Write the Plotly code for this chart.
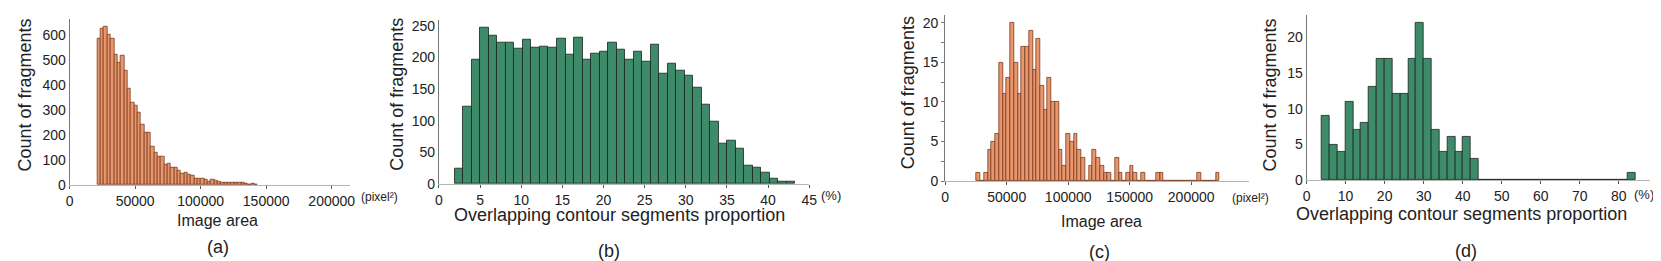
import plotly.graph_objects as go

W, H = 1661, 261

# ---------------- data ----------------
# (a) image area histogram (all fragments)
a_start = 21200
a_width = 2550
a_counts = [588, 625, 636, 604, 588, 524, 489, 517, 459, 388, 330, 317, 292, 244, 208, 208,
            152, 130, 115, 115, 81, 85, 70, 70, 59, 46, 50, 40, 36, 25, 25, 25,
            21, 14, 22, 18, 12, 10, 8, 8, 8, 10, 8, 8, 5, 3, 6, 3]

# (b) overlapping contour segments proportion (%)
b_start = 1.93
b_width = 1.034
b_counts = [24, 122, 196, 247, 235, 223, 223, 214, 229, 216, 217, 215, 230, 205, 232, 197,
            207, 210, 223, 213, 196, 210, 193, 221, 174, 191, 180, 171, 152, 125, 98, 64,
            69, 56, 29, 26, 18, 8, 4, 4]

# (c) image area histogram (subset)
c_start = 25570
c_width = 3040
c_counts = [1, 0, 1, 4, 5, 6, 15, 11, 13, 20, 15, 11, 17, 17, 19, 14, 18, 12, 9, 13,
            10, 10, 4, 2, 6, 5, 6, 4, 3, 0, 2, 4, 3, 2, 1, 1, 0, 3, 1, 0,
            1, 2, 1, 0, 1, 0, 0, 0, 1, 1, 0, 0, 0, 0, 0, 0, 0, 0, 0, 1,
            0, 0, 0, 0, 1]

# (d) overlapping contour segments proportion (%) (subset)
d_start = 3.9
d_width = 2.01
d_counts = [9, 5, 4, 11, 7, 8, 13, 17, 17, 12, 12, 17, 22, 17, 7, 4, 6, 4, 6, 3,
            0, 0, 0, 0, 0, 0, 0, 0, 0, 0, 0, 0, 0, 0, 0, 0, 0, 0, 0, 1]

a_ticks = [0, 50000, 100000, 150000, 200000]
b_ticks = [0, 5, 10, 15, 20, 25, 30, 35, 40, 45]
c_ticks = [0, 50000, 100000, 150000, 200000]
d_ticks = [0, 10, 20, 30, 40, 50, 60, 70, 80]

# ---------------- styling ----------------
ORANGE = "rgb(233,150,108)"
ORANGE_LINE = "rgb(120,58,30)"
GREEN = "rgb(62,139,106)"
GREEN_LINE = "rgb(25,35,30)"
FONT = "Liberation Sans, Arial, sans-serif"
TXT = "#222222"


def fx(p):
    return p / W


def fy(p):
    return 1 - p / H


def centers(start, width, counts):
    return [start + (i + 0.5) * width for i in range(len(counts))]


fig = go.Figure()

panels = [
    # name, start, width, counts, color, line, xdom, ydom, xrange, yrange, xticks, ydtick
    ("", a_start, a_width, a_counts, ORANGE, ORANGE_LINE, (58, 340), (9, 182), [0, 213600], [0, 667], a_ticks, 100),
    ("2", b_start, b_width, b_counts, GREEN, GREEN_LINE, (430, 803), (10, 181), [0, 45], [0, 260], b_ticks, 50),
    ("3", c_start, c_width, c_counts, ORANGE, ORANGE_LINE, (940, 1246), (5, 178), [0, 247000], [0, 21.0], c_ticks, 5),
    ("4", d_start, d_width, d_counts, GREEN, GREEN_LINE, (1304, 1650), (5, 177), [0, 88], [0, 23.1], d_ticks, 5),
]

layout = dict(
    width=W, height=H,
    margin=dict(l=0, r=0, t=0, b=0),
    paper_bgcolor="white", plot_bgcolor="white",
    showlegend=False, bargap=0,
    font=dict(family=FONT, size=14, color=TXT),
)

for name, start, width, counts, col, lcol, xd, yd, xr, yr, xt, ydt in panels:
    xa = "x" + name
    ya = "y" + name
    fig.add_trace(go.Bar(
        x=centers(start, width, counts), y=counts, width=width,
        marker=dict(color=col, line=dict(color=lcol, width=0.8)),
        xaxis=xa, yaxis=ya,
    ))
    layout["xaxis" + name] = dict(
        domain=[fx(xd[0]), fx(xd[1])], range=xr, anchor=ya,
        tickvals=xt, ticktext=[str(v) for v in xt],
        showgrid=False, zeroline=False, showline=True, linecolor="#b5b5b5", linewidth=1,
        ticks="outside", ticklen=3, tickcolor="#555555",
        tickfont=dict(size=14, color=TXT, family=FONT),
    )
    yax = dict(
        domain=[fy(yd[1]), fy(yd[0])], range=yr, anchor=xa,
        dtick=ydt, tick0=0,
        showgrid=False, zeroline=False, showline=True, linecolor="#777777", linewidth=1,
        ticks="", tickfont=dict(size=14, color=TXT, family=FONT),
    )
    if name == "3":
        yax["ticks"] = "outside"
        yax["ticklen"] = 3
        yax["tickcolor"] = "#777777"
        yax["minor"] = dict(dtick=2.5, ticks="outside", ticklen=3, tickcolor="#777777")
    layout["yaxis" + name] = yax

fig.update_layout(**layout)

ann = []


def text(x, y, s, size, angle=0, xanchor="center"):
    ann.append(dict(x=fx(x), y=fy(y), xref="paper", yref="paper", text=s, showarrow=False,
                    textangle=angle, xanchor=xanchor, yanchor="middle",
                    font=dict(family=FONT, size=size, color=TXT)))


# y titles
for xc, yc in [(13, 88), (387, 88), (902, 86), (1267, 88)]:
    text(xc, yc, "Count of fragments", 18, angle=-90)
# x titles
text(207, 219, "Image area", 16)
text(612, 213, "Overlapping contour segments proportion", 18)
text(1097, 220, "Image area", 16)
text(1460, 212, "Overlapping contour segments proportion", 18)
# unit suffixes
text(350, 194, "(pixel²)", 12, xanchor="left")
text(813, 193, "(%)", 13, xanchor="left")
text(1227, 196, "(pixel²)", 12, xanchor="left")
text(1632, 192, "(%)", 13, xanchor="left")
# panel labels
text(207, 246, "(a)", 18)
text(601, 251, "(b)", 18)
text(1095, 252, "(c)", 18)
text(1465, 251, "(d)", 18)

fig.update_layout(annotations=ann)
fig.write_html("out.html")
